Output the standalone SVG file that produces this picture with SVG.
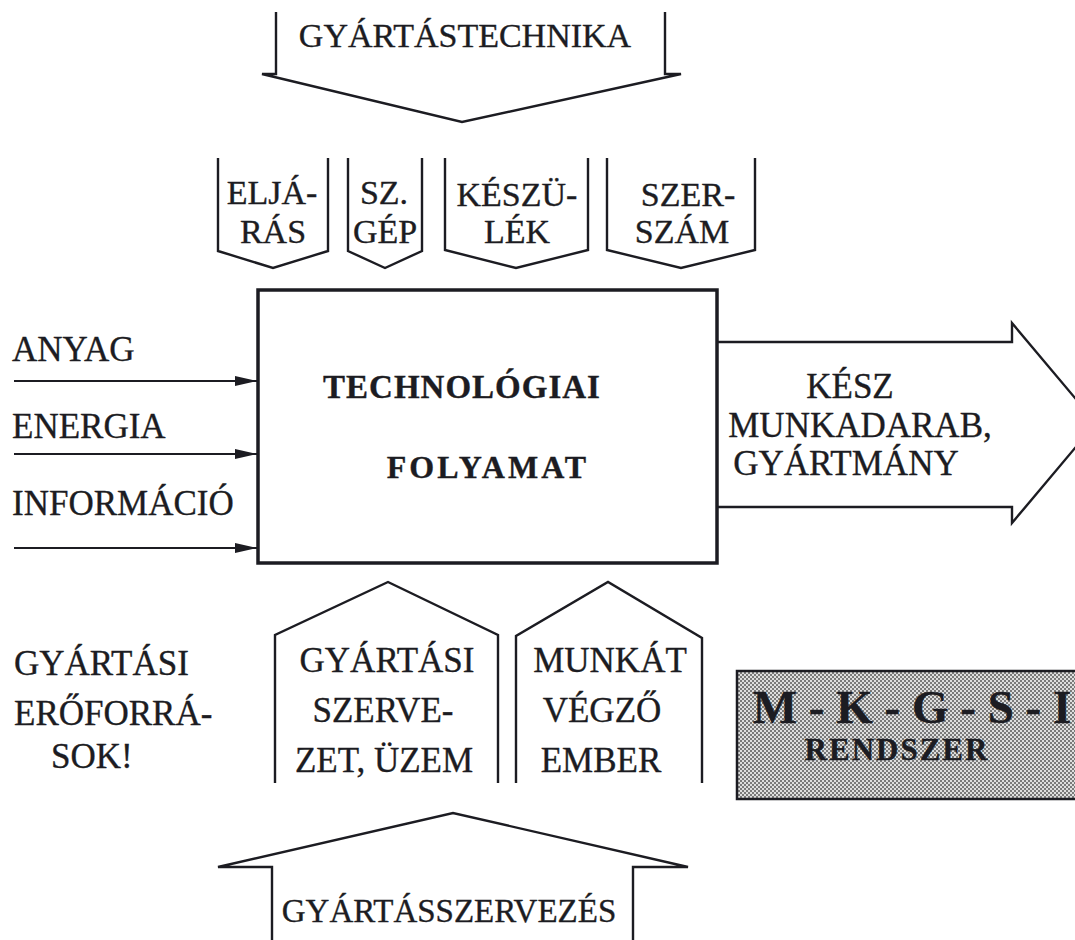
<svg xmlns="http://www.w3.org/2000/svg" width="1075" height="940" viewBox="0 0 1075 940">
<defs>
<style>
.t{font-family:"Liberation Serif","Times New Roman",serif;fill:#1c1c22;stroke:#1c1c22;stroke-width:0.35;}
.n{font-size:35px;}
.s{font-size:34px;}
.b{font-weight:bold;}
.shape{fill:none;stroke:#1c1c22;stroke-width:2.4;stroke-linejoin:miter;}
.conn{stroke:#1c1c22;stroke-width:2;fill:none;}
</style>
<marker id="ah" viewBox="0 0 22 10" refX="22" refY="5" markerWidth="22" markerHeight="10" markerUnits="userSpaceOnUse" orient="auto">
<path d="M0,0 L22,5 L0,10 Z" fill="#1c1c22"/>
</marker>
<pattern id="dots" width="4" height="4" patternUnits="userSpaceOnUse">
<rect width="4" height="4" fill="#dedede"/>
<rect width="2" height="2" fill="#7a7a7a"/>
<rect x="2" y="2" width="2" height="2" fill="#7a7a7a"/>
</pattern>
</defs>
<rect width="1075" height="940" fill="#fff"/>

<g id="gyartastechnika">
<path class="shape" d="M276,12 V74 H262 L462,122 L681,74 H665 V12"/>
<text class="t" x="465" y="47" font-size="34" text-anchor="middle">GYÁRTÁSTECHNIKA</text>
</g>

<g id="eljaras">
<path class="shape" d="M218,158 V251 L273,268 L328,251 V158"/>
<text class="t s" x="272" y="204" text-anchor="middle">ELJÁ-</text>
<text class="t s" x="273" y="243" text-anchor="middle">RÁS</text>
</g>
<g id="szgep">
<path class="shape" d="M348,158 V251 L385,268 L422,251 V158"/>
<text class="t s" x="384" y="204" text-anchor="middle">SZ.</text>
<text class="t s" x="385" y="243" text-anchor="middle">GÉP</text>
</g>
<g id="keszulek">
<path class="shape" d="M445,158 V250 L516,268 L588,250 V158"/>
<text class="t s" x="517" y="206" text-anchor="middle">KÉSZÜ-</text>
<text class="t s" x="517" y="243" text-anchor="middle">LÉK</text>
</g>
<g id="szerszam">
<path class="shape" d="M607,158 V250 L681,268 L755,250 V158"/>
<text class="t s" x="688" y="206" text-anchor="middle">SZER-</text>
<text class="t s" x="682" y="243" text-anchor="middle">SZÁM</text>
</g>

<g id="folyamat">
<rect x="258" y="290" width="459" height="273" fill="#fff" stroke="#1c1c22" stroke-width="3.5"/>
<text class="t b" x="462" y="398" font-size="33" letter-spacing="1" text-anchor="middle">TECHNOLÓGIAI</text>
<text class="t b" x="488" y="478" font-size="32" letter-spacing="3" text-anchor="middle">FOLYAMAT</text>
</g>

<g id="inputs">
<text class="t n" x="12" y="361">ANYAG</text>
<text class="t n" x="12" y="438">ENERGIA</text>
<text class="t n" x="12" y="515">INFORMÁCIÓ</text>
</g>

<g id="connectors">
<line class="conn" x1="14" y1="381" x2="257" y2="381" marker-end="url(#ah)"/>
<line class="conn" x1="14" y1="454" x2="257" y2="454" marker-end="url(#ah)"/>
<line class="conn" x1="14" y1="548" x2="257" y2="548" marker-end="url(#ah)"/>
</g>

<g id="kesz">
<path class="shape" d="M717,342 H1012 V323 L1096,423 L1012,523 V507 H717"/>
<text class="t n" x="850" y="398" text-anchor="middle">KÉSZ</text>
<text class="t n" x="860" y="437" text-anchor="middle">MUNKADARAB,</text>
<text class="t n" x="846" y="475" text-anchor="middle">GYÁRTMÁNY</text>
</g>

<g id="eroforrasok">
<text class="t n" x="14" y="675">GYÁRTÁSI</text>
<text class="t n" x="14" y="725">ERŐFORRÁ-</text>
<text class="t n" x="51" y="768">SOK!</text>
</g>

<g id="gyartasi-szervezet">
<path class="shape" d="M275,783 V635 L388,582 L498,635 V783"/>
<text class="t n" x="387" y="672" text-anchor="middle">GYÁRTÁSI</text>
<text class="t n" x="383" y="722" text-anchor="middle">SZERVE-</text>
<text class="t n" x="384" y="772" text-anchor="middle">ZET, ÜZEM</text>
</g>

<g id="munkat-vegzo">
<path class="shape" d="M516,783 V636 L608,582 L702,638 V783"/>
<text class="t n" x="610" y="672" text-anchor="middle">MUNKÁT</text>
<text class="t n" x="602" y="722" text-anchor="middle">VÉGZŐ</text>
<text class="t n" x="601" y="772" text-anchor="middle">EMBER</text>
</g>

<g id="mkgsi">
<rect x="737" y="671" width="345" height="128" fill="url(#dots)" stroke="#1c1c22" stroke-width="2.5"/>
<text class="t b" x="912" y="723" font-size="47" text-anchor="middle">M - K - G - S - I</text>
<text class="t b" x="897" y="760" font-size="31" letter-spacing="2" text-anchor="middle">RENDSZER</text>
</g>

<g id="gyartasszervezes">
<path class="shape" d="M272,945 V867 H218 L453,813 L688,867 H633 V945"/>
<text class="t" x="449" y="922" font-size="33" text-anchor="middle">GYÁRTÁSSZERVEZÉS</text>
</g>
</svg>
